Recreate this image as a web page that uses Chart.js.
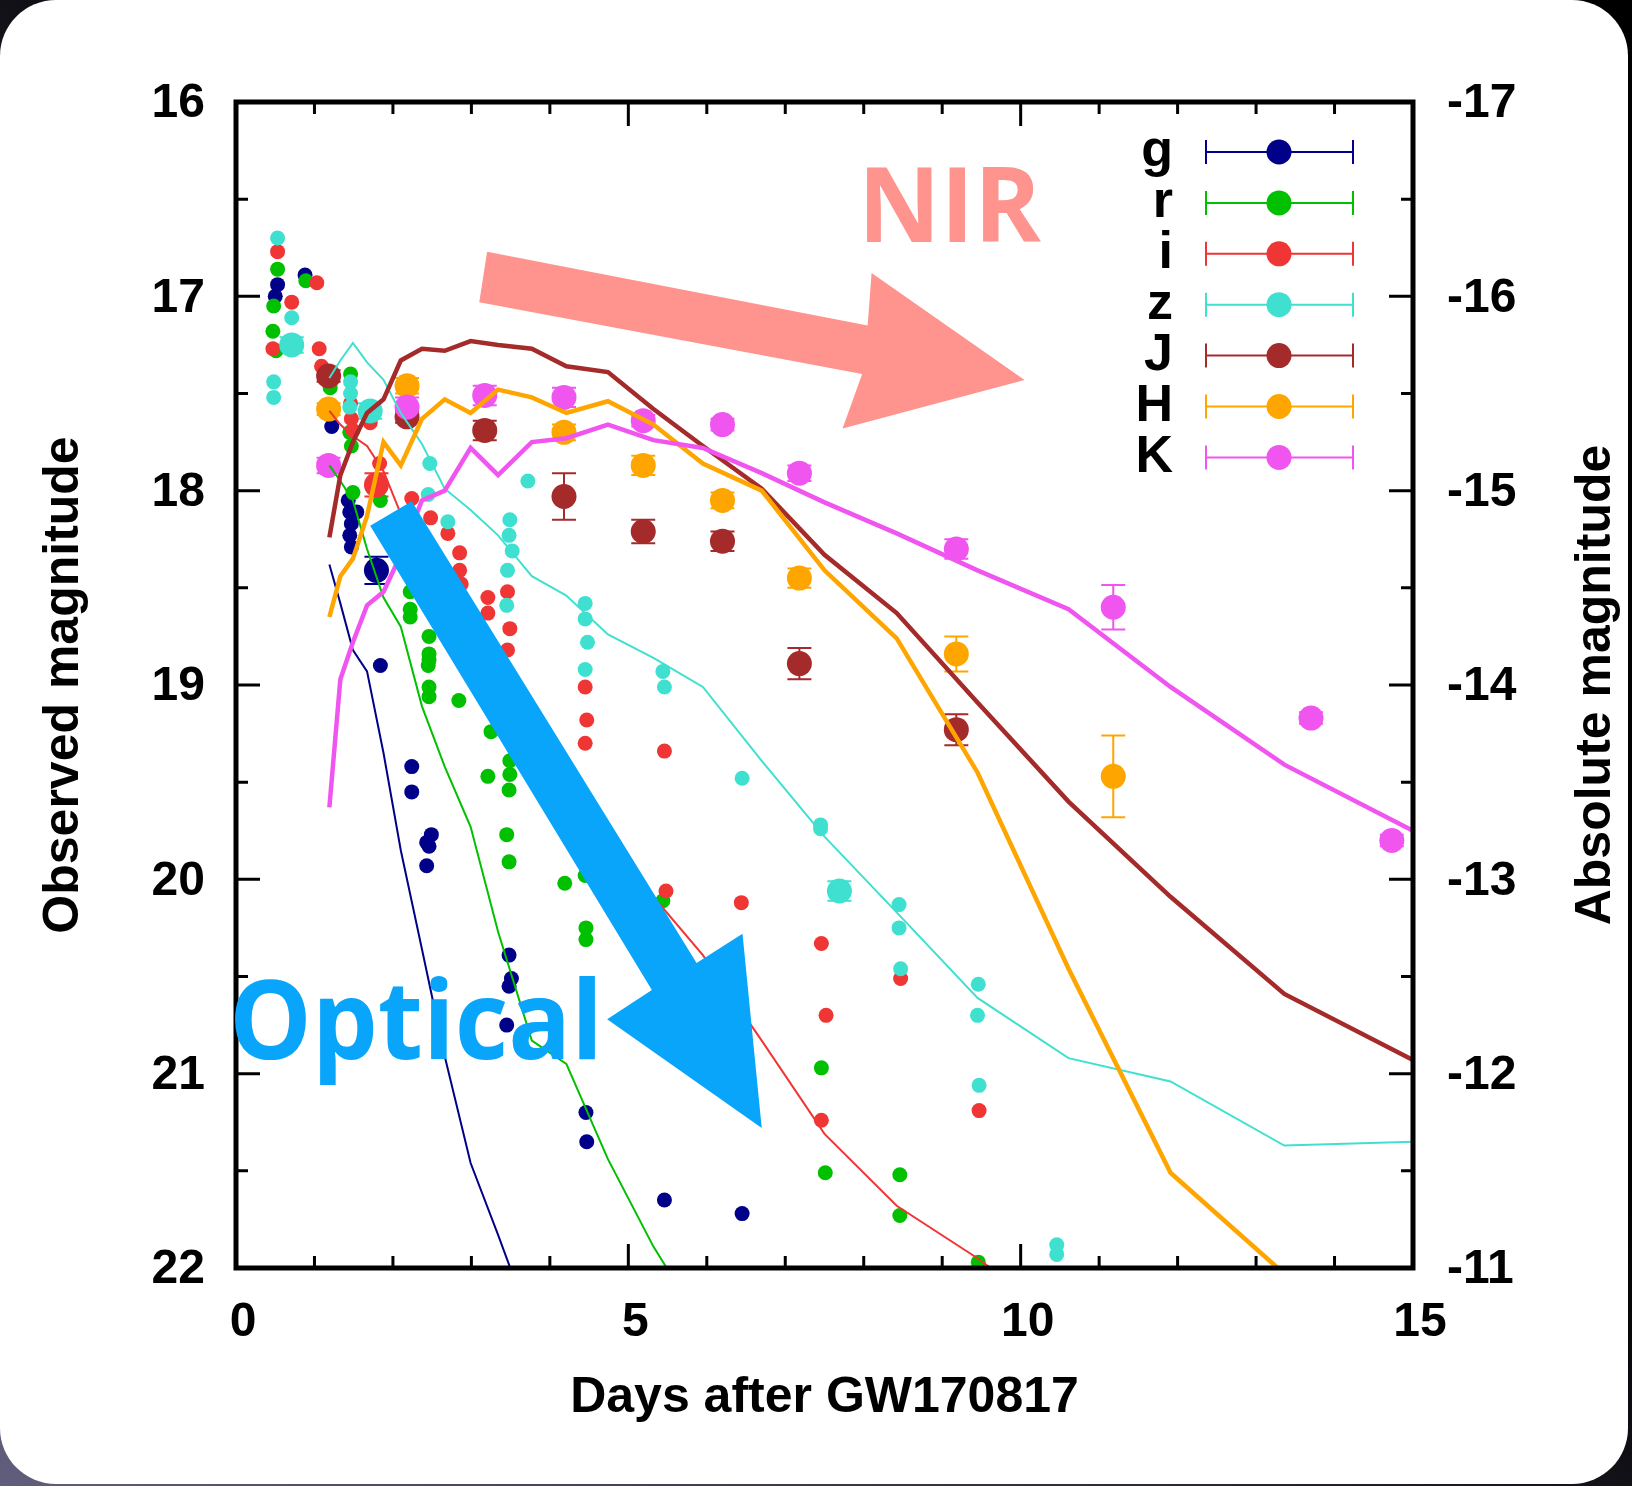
<!DOCTYPE html>
<html lang="en">
<head>
<meta charset="UTF-8">
<title>GW170817 light curves</title>
<script src="https://cdn.jsdelivr.net/npm/chart.js"></script>
<style>
  html, body { margin: 0; padding: 0; }
  body {
    width: 1632px; height: 1486px; overflow: hidden;
    background: linear-gradient(to top right, #605e7c 0%, #2b2a3a 35%, #000 60%);
  }
  .card {
    position: absolute; left: 0; top: 0;
    width: 1628px; height: 1484px;
    border-radius: 56px; background: #fff; overflow: hidden;
  }
</style>
</head>
<body>
<div class="card"><canvas id="lc" width="1632" height="1486"></canvas></div>
<script>
// ---- data (days after GW170817, observed magnitude) ----
const bands = ['g', 'r', 'i', 'z', 'J', 'H', 'K'];

const gDay = [0.53, 0.50, 0.88, 1.22, 1.43, 1.45, 1.54, 1.47, 1.45, 1.47, 1.84, 2.24, 2.24, 2.49, 2.43, 2.46, 2.43, 3.48, 3.51, 3.48, 3.45, 4.46, 4.47, 5.46, 6.45];
const gMag = [16.94, 17.00, 16.89, 17.67, 18.05, 18.11, 18.11, 18.17, 18.23, 18.29, 18.90, 19.42, 19.55, 19.77, 19.81, 19.83, 19.93, 20.39, 20.51, 20.55, 20.75, 21.20, 21.35, 21.65, 21.72];

const rDay = [0.53, 0.48, 0.89, 0.47, 0.51, 1.20, 1.46, 1.45, 1.47, 1.49, 1.84, 2.22, 2.22, 2.22, 2.46, 2.46, 2.46, 2.45, 2.46, 2.46, 2.84, 3.25, 3.21, 3.49, 3.49, 3.48, 3.45, 3.48, 4.19, 4.45, 4.46, 4.46, 5.44, 7.46, 7.51, 8.46, 8.46, 9.46];
const rMag = [16.86, 17.05, 16.92, 17.18, 17.28, 17.47, 17.40, 17.70, 17.77, 18.01, 18.05, 18.52, 18.61, 18.65, 18.75, 18.84, 18.87, 18.90, 19.01, 19.06, 19.08, 19.24, 19.47, 19.39, 19.46, 19.54, 19.77, 19.91, 20.02, 19.98, 20.25, 20.31, 20.11, 20.97, 21.51, 21.52, 21.73, 21.97];

const iDay = [0.53, 1.03, 0.71, 0.47, 1.06, 1.09, 1.46, 1.47, 1.49, 1.71, 1.83, 2.24, 2.48, 2.70, 2.85, 2.85, 2.87, 3.21, 3.21, 3.46, 3.49, 3.46, 4.45, 4.47, 4.45, 5.46, 5.48, 6.44, 7.46, 7.52, 7.46, 8.47, 9.47];
const iMag = [16.77, 16.93, 17.03, 17.27, 17.27, 17.36, 17.55, 17.63, 17.69, 17.65, 17.86, 18.04, 18.14, 18.22, 18.32, 18.41, 18.48, 18.55, 18.63, 18.52, 18.71, 18.82, 19.01, 19.18, 19.30, 19.34, 20.06, 20.12, 20.33, 20.70, 21.24, 20.51, 21.19];

const zDay = [0.53, 0.71, 0.48, 0.48, 1.46, 1.46, 1.45, 2.47, 2.45, 2.70, 3.72, 3.49, 3.48, 3.52, 3.46, 3.45, 4.45, 4.45, 4.48, 4.45, 5.44, 5.46, 6.45, 7.45, 7.45, 8.45, 8.45, 8.47, 9.46, 9.45, 9.47, 10.46, 10.46];
const zMag = [16.70, 17.11, 17.44, 17.52, 17.44, 17.50, 17.57, 17.86, 18.02, 18.16, 17.95, 18.15, 18.23, 18.31, 18.41, 18.59, 18.58, 18.66, 18.78, 18.92, 18.93, 19.01, 19.48, 19.72, 19.74, 20.13, 20.25, 20.46, 20.54, 20.70, 21.06, 21.88, 21.93];

// points with error bars
const gBigDay = [1.79], gBigMag = [18.41], gBigErr = [0.07];
const iBigDay = [1.79], iBigMag = [17.97], iBigErr = [0.06];
const zBigDay = [0.71, 1.71, 7.69], zBigMag = [17.25, 17.59, 20.06], zBigErr = [0.04, 0.04, 0.05];
const JDay = [1.18, 2.18, 3.17, 4.18, 5.19, 6.20, 7.18, 9.18];
const JMag = [17.41, 17.62, 17.69, 18.03, 18.21, 18.26, 18.89, 19.23];
const JErr = [0.03, 0.03, 0.05, 0.12, 0.06, 0.05, 0.08, 0.08];
const HDay = [1.18, 2.18, 4.18, 5.19, 6.20, 7.18, 9.18, 11.18];
const HMag = [17.58, 17.46, 17.70, 17.87, 18.05, 18.45, 18.84, 19.47];
const HErr = [0.03, 0.04, 0.04, 0.05, 0.04, 0.05, 0.09, 0.21];
const KDay = [1.18, 2.18, 3.17, 4.18, 5.19, 6.20, 7.18, 9.18, 11.18, 13.70, 14.73];
const KMag = [17.87, 17.57, 17.51, 17.52, 17.64, 17.66, 17.91, 18.30, 18.60, 19.17, 19.80];
const KErr = [0.04, 0.05, 0.05, 0.05, 0.03, 0.03, 0.04, 0.05, 0.115, 0.03, 0.03];

// model light curves
const modelDay = [1.19, 1.33, 1.49, 1.67, 1.88, 2.10, 2.37, 2.66, 2.99, 3.34, 3.77, 4.21, 4.74, 5.32, 5.95, 6.70, 7.50, 8.42, 9.45, 10.61, 11.91, 13.36, 15.0];
const gModel = [18.38, 18.58, 18.82, 18.93, 19.35, 19.85, 20.36, 20.91, 21.46, 21.83, 22.30];
const rModel = [17.87, 17.95, 18.05, 18.30, 18.55, 18.70, 19.11, 19.42, 19.73, 20.27, 20.83, 20.95, 21.44, 21.89, 22.30];
const iModel = [17.59, 17.66, 17.72, 17.77, 17.90, 18.12, 18.40, 18.65, 18.92, 19.20, 19.50, 19.75, 19.95, 20.09, 20.39, 20.83, 21.31, 21.68, 21.95, 22.30];
const zModel = [17.42, 17.33, 17.24, 17.34, 17.43, 17.60, 17.76, 17.99, 18.10, 18.23, 18.44, 18.54, 18.74, 18.86, 19.01, 19.39, 19.78, 20.17, 20.61, 20.92, 21.04, 21.37, 21.35];
const JModel = [18.24, 17.92, 17.75, 17.60, 17.53, 17.33, 17.27, 17.28, 17.23, 17.25, 17.27, 17.36, 17.39, 17.58, 17.77, 17.99, 18.33, 18.63, 19.09, 19.60, 20.09, 20.59, 20.93];
const HModel = [18.65, 18.44, 18.35, 18.13, 17.75, 17.87, 17.63, 17.53, 17.60, 17.48, 17.52, 17.60, 17.54, 17.66, 17.86, 18.00, 18.41, 18.76, 19.45, 20.46, 21.51, 22.03, 22.60];
const KModel = [19.63, 18.97, 18.78, 18.59, 18.52, 18.33, 18.05, 18.00, 17.78, 17.92, 17.75, 17.73, 17.66, 17.74, 17.78, 17.91, 18.06, 18.22, 18.41, 18.61, 19.01, 19.41, 19.75];

// axis ticks
const xTicks = [0, 5, 10, 15];
const yTicks = [16, 17, 18, 19, 20, 21, 22];
const absTicks = [-17, -16, -15, -14, -13, -12, -11];

// ---- styles ----
const colors = { g: '#000088', r: '#00c000', i: '#f03535', z: '#40e0d0', J: '#a52a2a', H: '#ffa500', K: '#f055f0' };
const FONT = '"Liberation Sans", Arial, Helvetica, sans-serif';
const plotBox = { left: 236, top: 102, right: 1413, bottom: 1268 };

// annotation arrows, in data units (day, mag)
const nirArrow = [[3.20, 16.77], [8.05, 17.15], [8.10, 16.88], [10.05, 17.43], [7.73, 17.68], [7.98, 17.40], [3.10, 17.03]];
const optArrow = [[1.71, 18.18], [2.24, 18.055], [5.87, 20.43], [6.455, 20.28], [6.70, 21.28], [4.73, 20.72], [5.30, 20.57]];

function pts(days, mags) {
  return days.map((d, k) => ({ x: d, y: mags[k] })).filter(p => p.y !== undefined);
}

function dots(band, days, mags, radius, order, errs) {
  return {
    label: band, data: pts(days, mags), showLine: false,
    pointRadius: radius, pointHoverRadius: radius, pointBorderWidth: 0,
    pointBackgroundColor: colors[band], pointBorderColor: colors[band],
    order: order, clip: 0, errs: errs
  };
}

function model(band, mags, width, order) {
  return {
    label: band + ' model', data: pts(modelDay, mags), showLine: true,
    pointRadius: 0, borderColor: colors[band], borderWidth: width,
    tension: 0, fill: false, order: order, clip: 0
  };
}

const datasets = [
  dots('g', gDay, gMag, 7.5, 20),
  dots('r', rDay, rMag, 7.5, 19),
  dots('i', iDay, iMag, 7.5, 18),
  dots('z', zDay, zMag, 7.5, 17),
  dots('g', gBigDay, gBigMag, 12.5, 16, gBigErr),
  dots('i', iBigDay, iBigMag, 12.5, 15, iBigErr),
  dots('z', zBigDay, zBigMag, 12.5, 14, zBigErr),
  dots('J', JDay, JMag, 12.5, 13, JErr),
  dots('H', HDay, HMag, 12.5, 12, HErr),
  dots('K', KDay, KMag, 12.5, 11, KErr),
  model('g', gModel, 2, 7),
  model('r', rModel, 2, 6),
  model('i', iModel, 2, 5),
  model('z', zModel, 2, 4),
  model('J', JModel, 4.5, 3),
  model('H', HModel, 4.5, 2),
  model('K', KModel, 4.5, 1)
];

// error bars for the large points
const errorBars = {
  id: 'errorBars',
  beforeDatasetsDraw(chart) {
    const { ctx, scales: { x, y } } = chart;
    ctx.save();
    ctx.lineWidth = 2;
    chart.data.datasets.forEach(ds => {
      if (!ds.errs) return;
      ctx.strokeStyle = ds.pointBackgroundColor;
      ds.data.forEach((p, k) => {
        const px = x.getPixelForValue(p.x);
        const y1 = y.getPixelForValue(p.y - ds.errs[k]);
        const y2 = y.getPixelForValue(p.y + ds.errs[k]);
        ctx.beginPath();
        ctx.moveTo(px, y1); ctx.lineTo(px, y2);
        ctx.moveTo(px - 12, y1); ctx.lineTo(px + 12, y1);
        ctx.moveTo(px - 12, y2); ctx.lineTo(px + 12, y2);
        ctx.stroke();
      });
    });
    ctx.restore();
  }
};

function fitText(ctx, text, left, base, width, size, color) {
  ctx.font = 'bold ' + size + 'px "Open Sans", sans-serif';
  const w = ctx.measureText(text).width;
  ctx.save();
  ctx.translate(left, base);
  ctx.scale(width / w, 1);
  ctx.fillStyle = color;
  ctx.textAlign = 'left';
  ctx.textBaseline = 'alphabetic';
  ctx.fillText(text, 0, 0);
  ctx.restore();
}

function polygon(ctx, x, y, shape, color) {
  ctx.beginPath();
  shape.forEach(([d, m], k) => {
    const px = x.getPixelForValue(d), py = y.getPixelForValue(m);
    if (k === 0) ctx.moveTo(px, py); else ctx.lineTo(px, py);
  });
  ctx.closePath();
  ctx.fillStyle = color;
  ctx.fill();
}

// gnuplot style frame, inward ticks, titles, key and annotations
const decorations = {
  id: 'decorations',
  afterDatasetsDraw(chart) {
    const { ctx, chartArea: a, scales: { x, y } } = chart;
    ctx.save();

    // ticks
    ctx.strokeStyle = '#000';
    ctx.lineWidth = 3;
    ctx.beginPath();
    for (let d = 1; d < 15; d++) {
      const px = x.getPixelForValue(d);
      const len = d % 5 === 0 ? 24 : 12;
      ctx.moveTo(px, a.bottom); ctx.lineTo(px, a.bottom - len);
      ctx.moveTo(px, a.top); ctx.lineTo(px, a.top + len);
    }
    for (let m = 16.5; m < 22; m += 0.5) {
      const py = y.getPixelForValue(m);
      const len = m % 1 === 0 ? 24 : 12;
      ctx.moveTo(a.left, py); ctx.lineTo(a.left + len, py);
      ctx.moveTo(a.right, py); ctx.lineTo(a.right - len, py);
    }
    ctx.stroke();
    ctx.lineWidth = 5;
    ctx.strokeRect(a.left, a.top, a.right - a.left, a.bottom - a.top);

    // axis titles
    ctx.fillStyle = '#000';
    ctx.font = 'bold 50px ' + FONT;
    ctx.textAlign = 'center';
    ctx.textBaseline = 'alphabetic';
    ctx.fillText('Days after GW170817', (a.left + a.right) / 2, 1412);
    ctx.save();
    ctx.translate(78, (a.top + a.bottom) / 2);
    ctx.rotate(-Math.PI / 2);
    ctx.fillText('Observed magnitude', 0, 0);
    ctx.restore();
    ctx.save();
    ctx.translate(1610, (a.top + a.bottom) / 2);
    ctx.rotate(-Math.PI / 2);
    ctx.fillText('Absolute magnitude', 0, 0);
    ctx.restore();

    // key
    bands.forEach((b, k) => {
      const ky = 152 + k * 50.9;
      ctx.fillStyle = '#000';
      ctx.font = 'bold 52px ' + FONT;
      ctx.textAlign = 'right';
      ctx.textBaseline = 'middle';
      ctx.fillText(b, 1173, ky);
      ctx.strokeStyle = colors[b];
      ctx.lineWidth = 2;
      ctx.beginPath();
      ctx.moveTo(1206, ky); ctx.lineTo(1353, ky);
      ctx.moveTo(1206, ky - 12); ctx.lineTo(1206, ky + 12);
      ctx.moveTo(1353, ky - 12); ctx.lineTo(1353, ky + 12);
      ctx.stroke();
      ctx.fillStyle = colors[b];
      ctx.beginPath();
      ctx.arc(1279, ky, 12.5, 0, 2 * Math.PI);
      ctx.fill();
    });

    // annotations
    polygon(ctx, x, y, nirArrow, '#ff938e');
    polygon(ctx, x, y, optArrow, '#08a5fa');
    fitText(ctx, 'NIR', 858, 242, 183, 104, '#ff938e');
    fitText(ctx, 'Optical', 229, 1059, 374, 110, '#08a5fa');

    ctx.restore();
  }
};

new Chart(document.getElementById('lc'), {
  type: 'scatter',
  data: { datasets: datasets },
  options: {
    responsive: false,
    animation: false,
    devicePixelRatio: 1,
    layout: { padding: { top: plotBox.top, left: 0, right: 0, bottom: 0 } },
    plugins: { legend: { display: false }, tooltip: { enabled: false } },
    scales: {
      x: {
        type: 'linear', min: 0, max: 15,
        grid: { display: false, drawTicks: false }, border: { display: false },
        afterBuildTicks: s => { s.ticks = xTicks.map(v => ({ value: v })); },
        afterFit: s => { s.height = 1486 - plotBox.bottom; },
        ticks: { color: '#000', padding: 26, labelOffset: 7, font: { family: FONT, size: 48, weight: 'bold' } }
      },
      y: {
        type: 'linear', position: 'left', min: 16, max: 22, reverse: true,
        grid: { display: false, drawTicks: false }, border: { display: false },
        afterBuildTicks: s => { s.ticks = yTicks.map(v => ({ value: v })); },
        afterFit: s => { s.width = plotBox.left; },
        ticks: { color: '#000', padding: 31, labelOffset: 2, font: { family: FONT, size: 48, weight: 'bold' } }
      },
      y2: {
        type: 'linear', position: 'right', min: -17, max: -11, reverse: true,
        grid: { display: false, drawTicks: false }, border: { display: false },
        afterBuildTicks: s => { s.ticks = absTicks.map(v => ({ value: v })); },
        afterFit: s => { s.width = 1632 - plotBox.right; },
        ticks: { color: '#000', padding: 34, labelOffset: 2, font: { family: FONT, size: 48, weight: 'bold' } }
      }
    }
  },
  plugins: [errorBars, decorations]
});
</script>
</body>
</html>
